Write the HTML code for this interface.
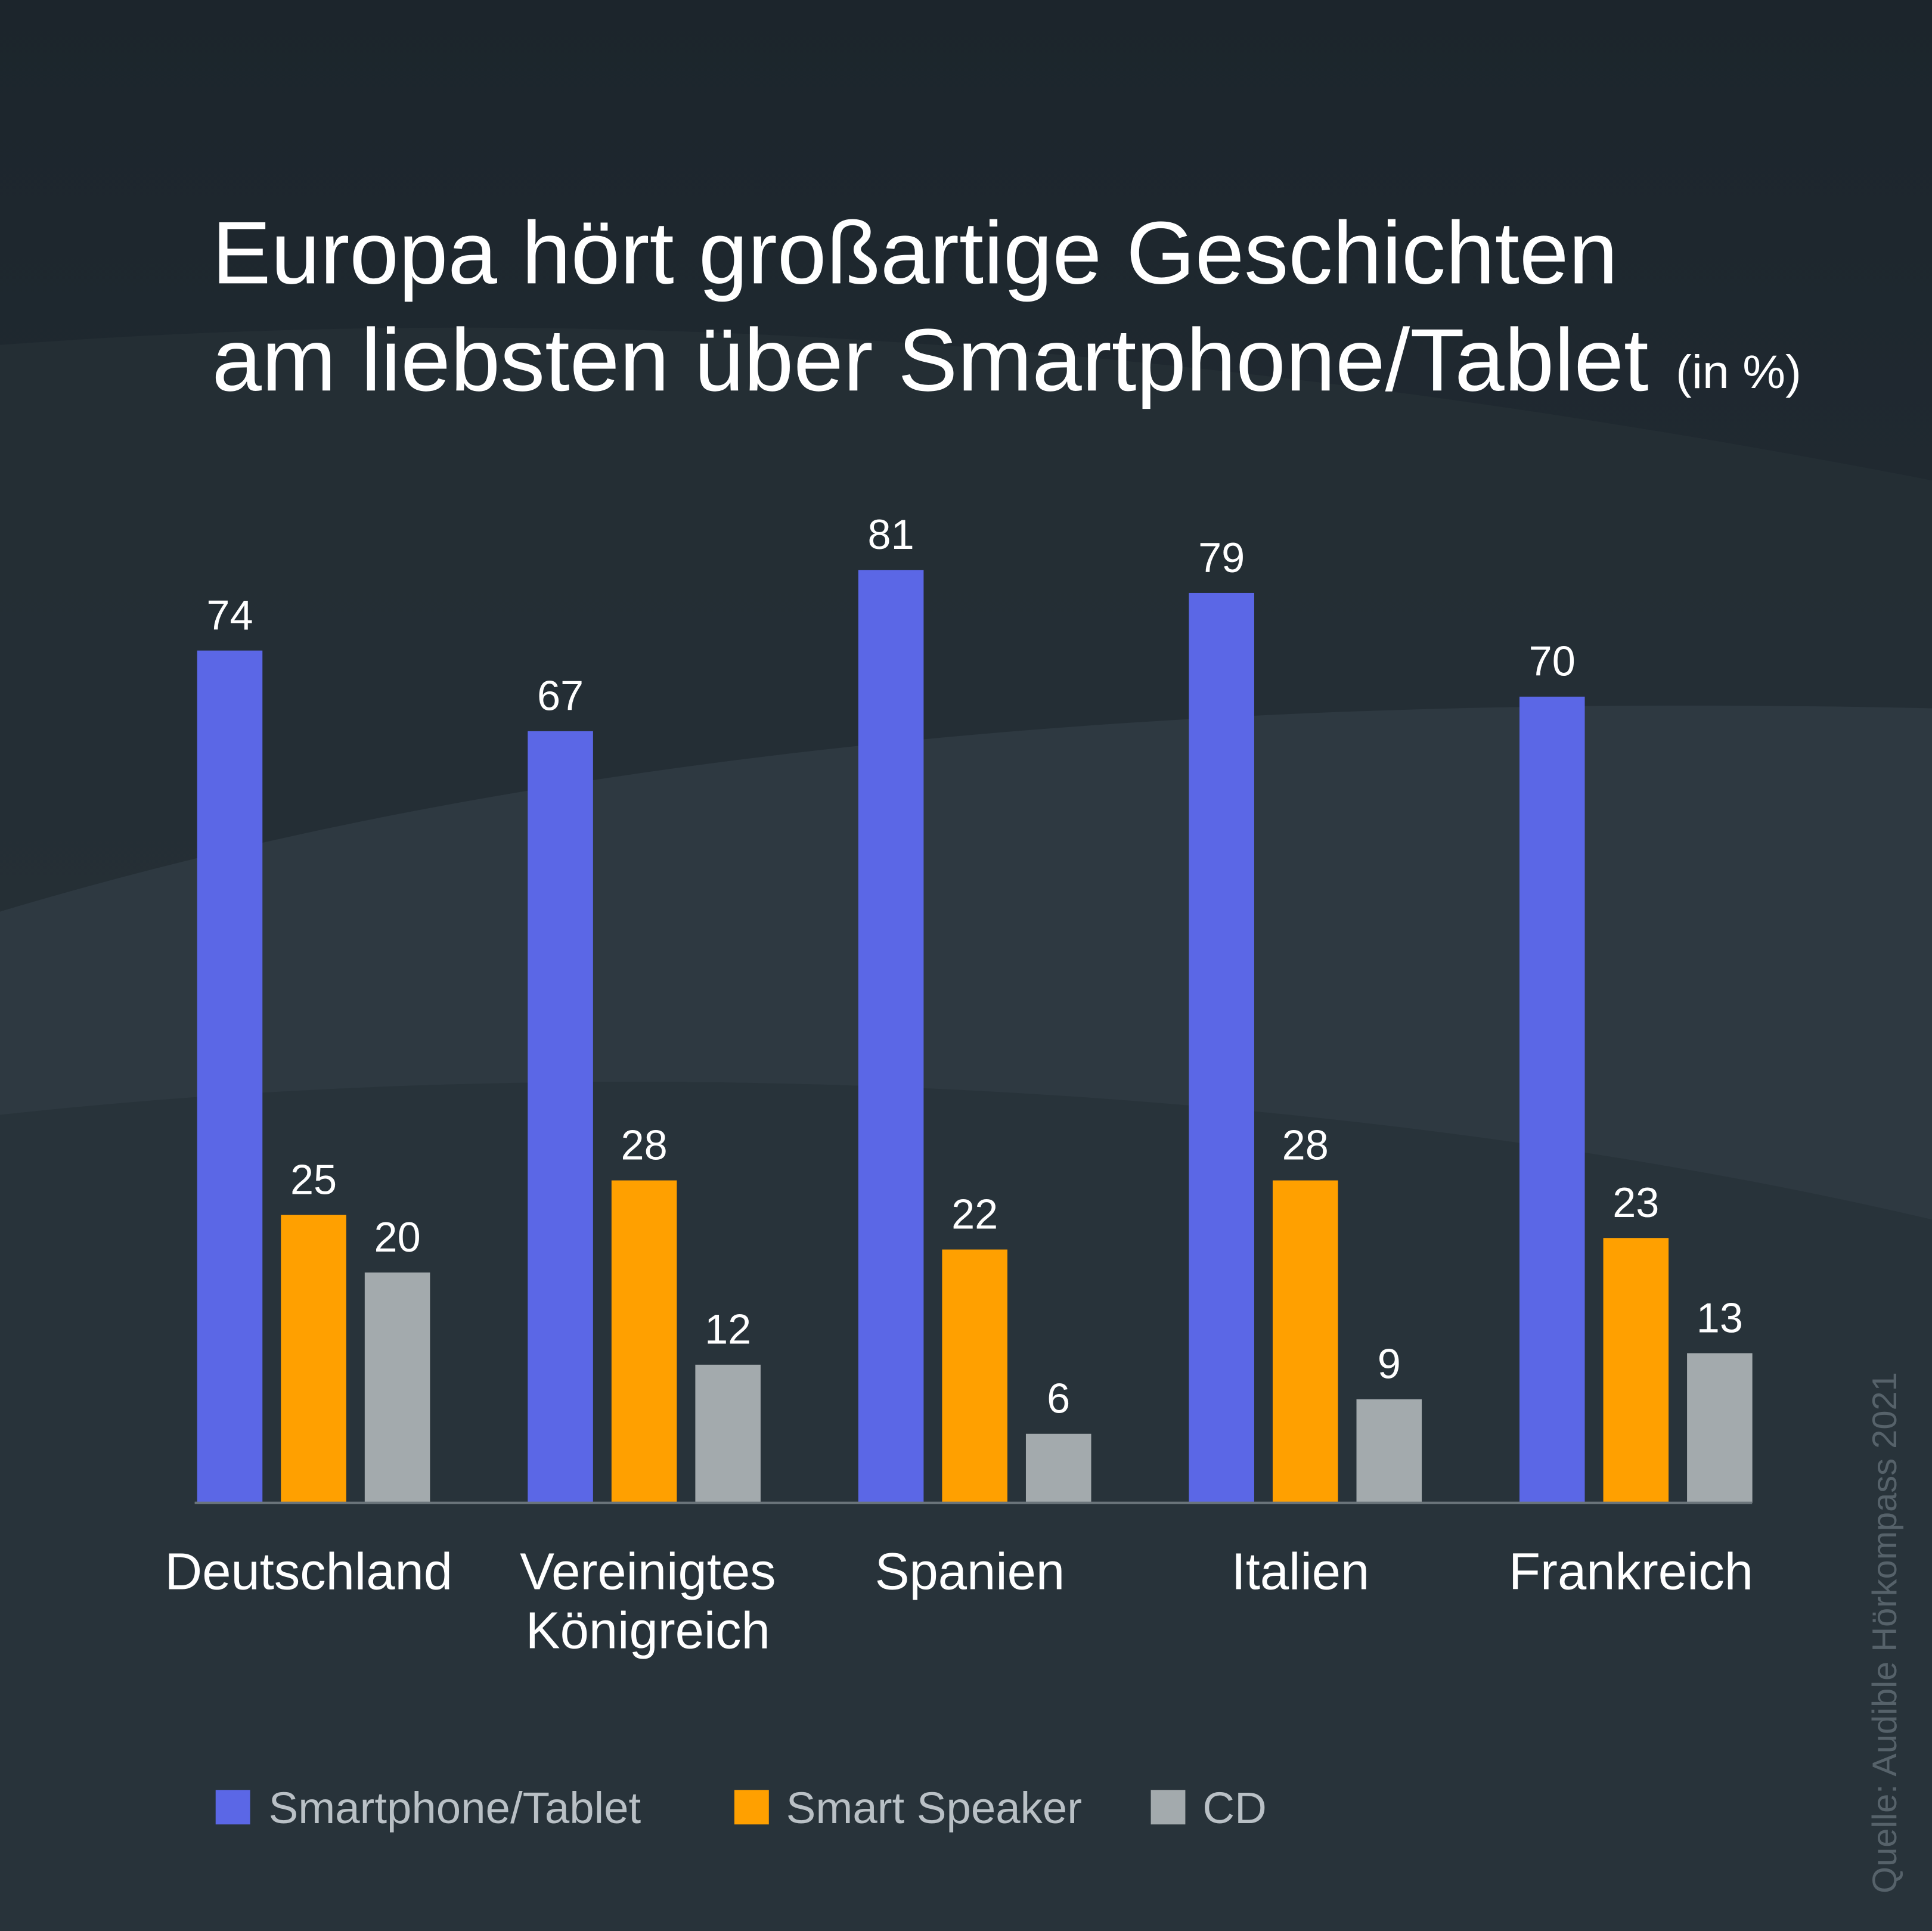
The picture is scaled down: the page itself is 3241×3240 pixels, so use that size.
<!DOCTYPE html>
<html><head><meta charset="utf-8"><style>
html,body{margin:0;padding:0;background:#222c33;}
svg{display:block}
text{font-family:"Liberation Sans","DejaVu Sans",sans-serif;}
</style></head><body>
<svg id="chart" width="3241" height="3240" viewBox="0 0 1568 1567.5" xmlns="http://www.w3.org/2000/svg">
<defs>
<linearGradient id="bg" x1="0" y1="0" x2="0" y2="1">
<stop offset="0" stop-color="#1c252c"/><stop offset="1" stop-color="#2b363e"/>
</linearGradient>
</defs>
<rect width="1568" height="1568" fill="url(#bg)"/>
<path d="M0 280 C400 250 900 260 1568 390 L1568 1568 L0 1568Z" fill="#252f36" opacity="0.8"/>
<path d="M0 740 C400 620 900 560 1568 575 L1568 1568 L0 1568Z" fill="#2e3941"/>
<path d="M0 905 C500 850 1100 880 1568 990 L1568 1568 L0 1568Z" fill="#28333a"/>
<text x="172" y="230" font-size="72" fill="#ffffff" textLength="1141" lengthAdjust="spacingAndGlyphs">Europa hört großartige Geschichten</text>
<text x="172" y="317" font-size="72" fill="#ffffff" textLength="1166" lengthAdjust="spacingAndGlyphs">am liebsten über Smartphone/Tablet</text>
<text x="1360" y="315" font-size="38" fill="#ffffff" textLength="102" lengthAdjust="spacingAndGlyphs">(in %)</text>
<g id="bars"></g>
<line x1="158" y1="1220" x2="1422" y2="1220" stroke="#6b757b" stroke-width="2"/>
<g>
<rect x="175" y="1453" width="28" height="28" fill="#5b67e6"/>
<text x="218" y="1480" font-size="36" fill="#b9c0c5">Smartphone/Tablet</text>
<rect x="596" y="1453" width="28" height="28" fill="#ffa000"/>
<text x="638" y="1480" font-size="36" fill="#b9c0c5">Smart Speaker</text>
<rect x="934" y="1453" width="28" height="28" fill="#a3aaad"/>
<text x="976" y="1480" font-size="36" fill="#b9c0c5">CD</text>
</g>
<text transform="translate(1539,1537) rotate(-90)" font-size="28" fill="#56626a">Quelle: Audible Hörkompass 2021</text>
</svg>
<script>
const categories=[["Deutschland"],["Vereinigtes","Königreich"],["Spanien"],["Italien"],["Frankreich"]];
const smartphone=[74,67,81,79,70];
const speaker=[25,28,22,28,23];
const cd=[20,12,6,9,13];
const seriesColors=["#5b67e6","#ffa000","#a3aaad"];
const seriesNames=["smartphone","speaker","cd"];
const NS="http://www.w3.org/2000/svg";
const g=document.getElementById("bars");
const baseY=1220, unit=9.35, x0=160, step=268.3, bw=53, inner=68;
function yScale(v){return baseY-v*unit;}
function xScale(i,s){return x0+i*step+s*inner;}
const series=[smartphone,speaker,cd];
categories.forEach((cat,i)=>{
  series.forEach((vals,s)=>{
    const v=vals[i];
    const r=document.createElementNS(NS,"rect");
    r.setAttribute("x",xScale(i,s));r.setAttribute("y",yScale(v));
    r.setAttribute("width",bw);r.setAttribute("height",baseY-yScale(v));
    r.setAttribute("fill",seriesColors[s]);
    
    
    g.appendChild(r);
    const t=document.createElementNS(NS,"text");
    t.setAttribute("x",xScale(i,s)+bw/2);t.setAttribute("y",yScale(v)-17);
    t.setAttribute("text-anchor","middle");t.setAttribute("font-size","34");t.setAttribute("fill","#ffffff");
    t.textContent=v;
    
    
    g.appendChild(t);
  });
  const cx=xScale(i,0)+(2*inner+bw)/2-4+(cat.length>1?7:0);
  cat.forEach((line,k)=>{
    const t=document.createElementNS(NS,"text");
    t.setAttribute("x",cx);t.setAttribute("y",1290+k*48);
    t.setAttribute("text-anchor","middle");t.setAttribute("font-size","42");t.setAttribute("fill","#ffffff");
    t.textContent=line;
    
    
    g.appendChild(t);
  });
});
</script>
</body></html>
